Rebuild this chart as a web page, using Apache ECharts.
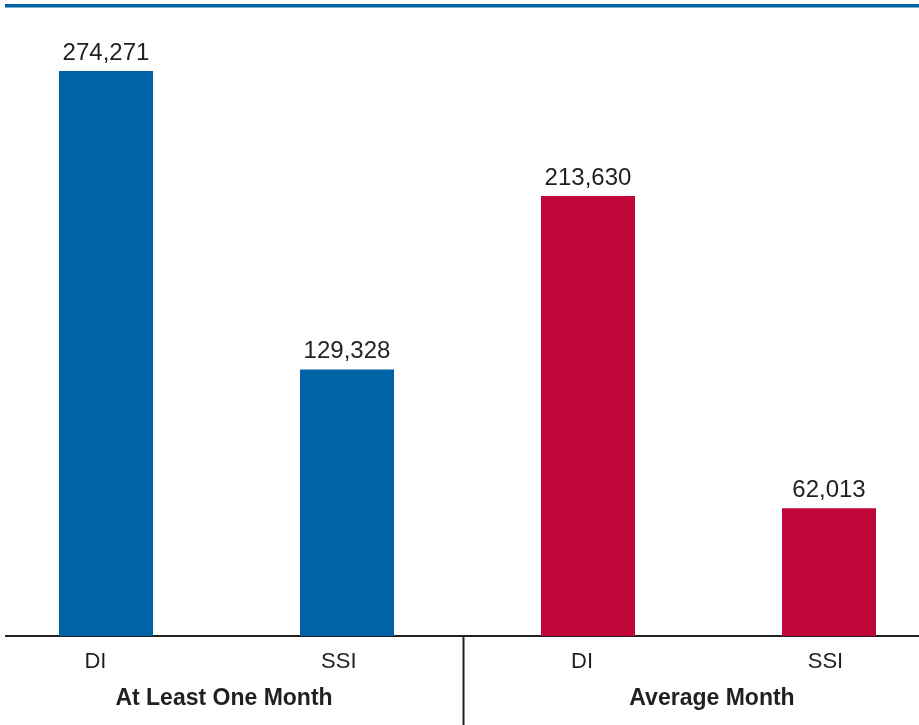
<!DOCTYPE html>
<html>
<head>
<meta charset="utf-8">
<script src="https://cdn.jsdelivr.net/npm/echarts@6/dist/echarts.min.js"></script>
<style>html,body{margin:0;padding:0;background:#fff;}#c{width:919px;height:725px;}</style>
</head>
<body>
<div id="c"></div>
<script>
var categories = ['DI', 'SSI', 'DI', 'SSI'];
var groups = ['At Least One Month', 'Average Month'];
var values = [274271, 129328, 213630, 62013];
var barColors = ['#0063a5', '#0063a5', '#be0639', '#be0639'];

var chart = echarts.init(document.getElementById('c'));
var textColor = '#231f20';
var font = 'Liberation Sans, Arial, Helvetica, sans-serif';

chart.setOption({
  animation: false,
  grid: [
    { left: -14.5, width: 964, top: 18, bottom: 89, outerBoundsMode: 'none', containLabel: false },
    { left: -26.2, width: 973.3, top: 18, bottom: 89, outerBoundsMode: 'none', containLabel: false },
    { left: -20, width: 976, top: 18, bottom: 89, outerBoundsMode: 'none', containLabel: false }
  ],
  xAxis: [
    { type: 'category', gridIndex: 0, data: categories, axisLine: { show: false }, axisTick: { show: false }, axisLabel: { show: false } },
    { type: 'category', gridIndex: 1, data: categories, axisLine: { show: false }, axisTick: { show: false },
      axisLabel: { color: textColor, fontFamily: font, fontSize: 22, margin: 15 } },
    { type: 'category', gridIndex: 2, data: groups, axisLine: { show: false }, axisTick: { show: false },
      axisLabel: { color: textColor, fontFamily: font, fontSize: 23, fontWeight: 'bold', margin: 51 } }
  ],
  yAxis: [
    { type: 'value', gridIndex: 0, min: 0, max: 300000, show: false, splitLine: { show: false } },
    { type: 'value', gridIndex: 1, min: 0, max: 300000, show: false, splitLine: { show: false } },
    { type: 'value', gridIndex: 2, min: 0, max: 300000, show: false, splitLine: { show: false } }
  ],
  series: [{
    type: 'bar',
    xAxisIndex: 0,
    yAxisIndex: 0,
    barWidth: 94,
    data: values.map(function (v, i) { return { value: v, itemStyle: { color: barColors[i] } }; }),
    label: {
      show: true,
      position: 'top',
      distance: 6,
      color: textColor,
      fontFamily: font,
      fontSize: 24,
      formatter: function (p) { return p.value.toLocaleString('en-US'); }
    }
  }],
  graphic: [
    { type: 'rect', shape: { x: 5, y: 4, width: 914, height: 3.5 }, style: { fill: '#0063a5' } },
    { type: 'line', shape: { x1: 5, y1: 636, x2: 919, y2: 636 }, style: { stroke: textColor, lineWidth: 2 } },
    { type: 'line', shape: { x1: 463.5, y1: 636, x2: 463.5, y2: 725 }, style: { stroke: textColor, lineWidth: 2 } }
  ]
});
</script>
</body>
</html>
